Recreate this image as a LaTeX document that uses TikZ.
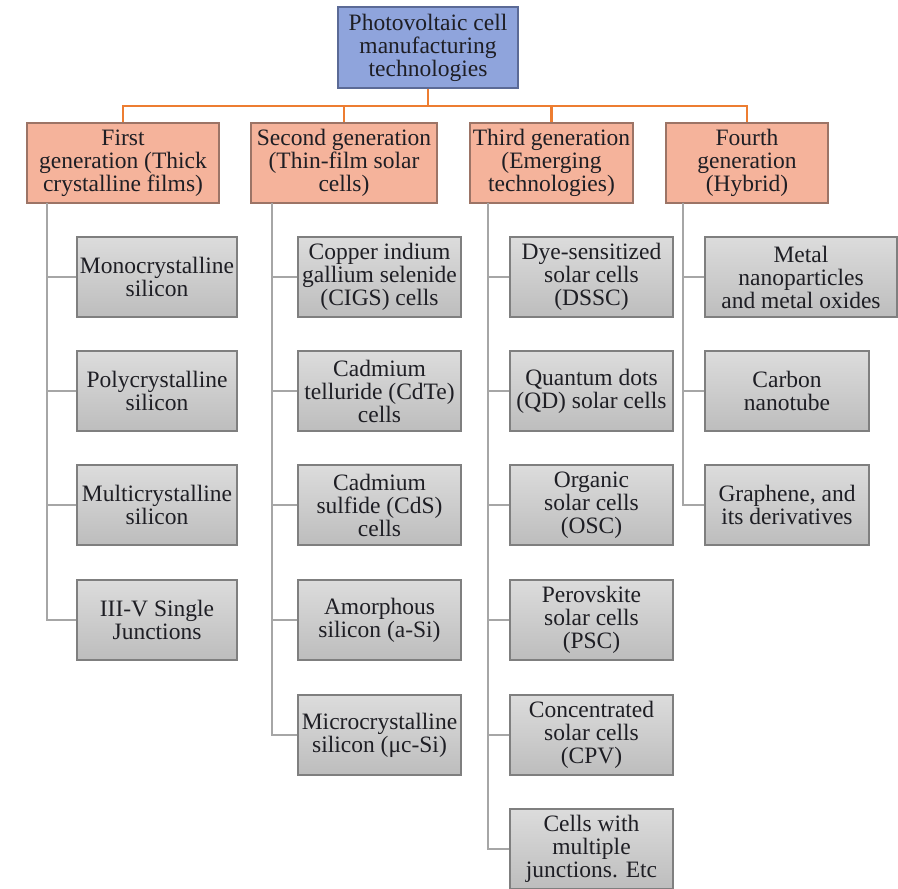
\documentclass[tikz,border=0pt]{standalone}
\usepackage{fontspec}
\setmainfont{Liberation Serif}
\newfontfamily\boxfont{Liberation Serif}
\usepackage{tikz}
\usetikzlibrary{calc}
\usepackage{xcolor}

\definecolor{rootblue}{HTML}{8FA4DC}
\definecolor{rootedge}{HTML}{5B6A96}
\definecolor{gensalmon}{HTML}{F5B39B}
\definecolor{genedge}{HTML}{9C7466}
\definecolor{busorange}{HTML}{ED7D31}
\definecolor{itemtop}{HTML}{DCDCDC}
\definecolor{itembot}{HTML}{BDBDBD}
\definecolor{itemedge}{HTML}{7F7F7F}
\definecolor{spinegray}{HTML}{A6A6A6}
\definecolor{inkdark}{HTML}{1E1E24}

\begin{document}
\begin{tikzpicture}[x=0.5pt, y=-0.5pt]

        % 1. Styles for the three kinds of boxes and the two kinds of lines
        \tikzset{
            box/.style={rectangle, align=center, inner sep=0pt, text=inkdark,
                font=\boxfont\fontsize{11.75}{11.5}\selectfont, minimum height=40pt},
            wd/.style={minimum width=#1*0.5pt},
            root/.style={box, fill=rootblue, draw=rootedge, line width=0.6pt, minimum height=40.5pt},
            gen/.style={box, fill=gensalmon, draw=genedge, line width=0.6pt},
            item/.style={box, top color=itemtop, bottom color=itembot, draw=itemedge, line width=0.6pt},
            bus/.style={busorange, line width=1.2pt},
            spine/.style={spinegray, line width=1pt}
        }
        \useasboundingbox (0,0) rectangle (898,888);

        % 2. Row heights (in pixels of the layout grid)
        \pgfmathsetmacro{\rowA}{277}
        \pgfmathsetmacro{\rowB}{391}
        \pgfmathsetmacro{\rowC}{505}
        \pgfmathsetmacro{\rowD}{620}
        \pgfmathsetmacro{\rowE}{735}
        \pgfmathsetmacro{\rowF}{849}

        % 3. Top box and the four generations
        \node[root, wd=180] (pv) at (428,47.5) {Photovoltaic cell\\manufacturing\\technologies};

        \node[gen, wd=192] (first)  at (123,163)   {First\\generation (Thick\\crystalline films)};
        \node[gen, wd=186] (second) at (344,163)   {Second generation\\(Thin-film solar\\cells)};
        \node[gen, wd=163] (third)  at (551.5,163) {Third generation\\(Emerging\\technologies)};
        \node[gen, wd=162] (fourth) at (747,163)   {Fourth\\generation\\(Hybrid)};

        % orange bus from the top box to each generation
        \coordinate (busmid) at (428,106);
        \draw[bus] (pv.south) -- (busmid);
        \foreach \g in {first, second, third, fourth}
            \draw[bus] (busmid) -| (\g.north);

        % 4. First generation
        \node[item, wd=160] (mono)  at (157,\rowA) {Monocrystalline\\silicon};
        \node[item, wd=160] (poly)  at (157,\rowB) {Polycrystalline\\silicon};
        \node[item, wd=160] (multi) at (157,\rowC) {Multicrystalline\\silicon};
        \node[item, wd=160] (threefive) at (157,\rowD) {III-V Single\\Junctions};

        \coordinate (spineA) at (47,203);
        \foreach \c in {mono, poly, multi, threefive}
            \draw[spine] (spineA) |- (\c.west);

        % 5. Second generation
        \node[item, wd=163] (cigs)  at (379.5,\rowA) {Copper indium\\gallium selenide\\(CIGS) cells};
        \node[item, wd=163] (cdte)  at (379.5,\rowB) {Cadmium\\telluride (CdTe)\\cells};
        \node[item, wd=163] (cds)   at (379.5,\rowC) {Cadmium\\sulfide (CdS)\\cells};
        \node[item, wd=163] (asi)   at (379.5,\rowD) {Amorphous\\silicon (a-Si)};
        \node[item, wd=163] (mucsi) at (379.5,\rowE) {Microcrystalline\\silicon (μc-Si)};

        \coordinate (spineB) at (272,203);
        \foreach \c in {cigs, cdte, cds, asi, mucsi}
            \draw[spine] (spineB) |- (\c.west);

        % 6. Third generation
        \node[item, wd=163] (dssc) at (591.5,\rowA) {Dye-sensitized\\solar cells\\(DSSC)};
        \node[item, wd=163] (qd)   at (591.5,\rowB) {Quantum dots\\(QD) solar cells};
        \node[item, wd=163] (osc)  at (591.5,\rowC) {Organic\\solar cells\\(OSC)};
        \node[item, wd=163] (psc)  at (591.5,\rowD) {Perovskite\\solar cells\\(PSC)};
        \node[item, wd=163] (cpv)  at (591.5,\rowE) {Concentrated\\solar cells\\(CPV)};
        \node[item, wd=163] (mjc)  at (591.5,\rowF) {Cells with\\multiple\\junctions. Etc};

        \coordinate (spineC) at (488,203);
        \foreach \c in {dssc, qd, osc, psc, cpv, mjc}
            \draw[spine] (spineC) |- (\c.west);

        % 7. Fourth generation
        \node[item, wd=192] (metal)    at (801,\rowA) {Metal\\nanoparticles\\and metal oxides};
        \node[item, wd=164] (cnt)      at (787,\rowB) {Carbon\\nanotube};
        \node[item, wd=164] (graphene) at (787,\rowC) {Graphene, and\\its derivatives};

        \coordinate (spineD) at (683,203);
        \foreach \c in {metal, cnt, graphene}
            \draw[spine] (spineD) |- (\c.west);

    \end{tikzpicture}
\end{document}
